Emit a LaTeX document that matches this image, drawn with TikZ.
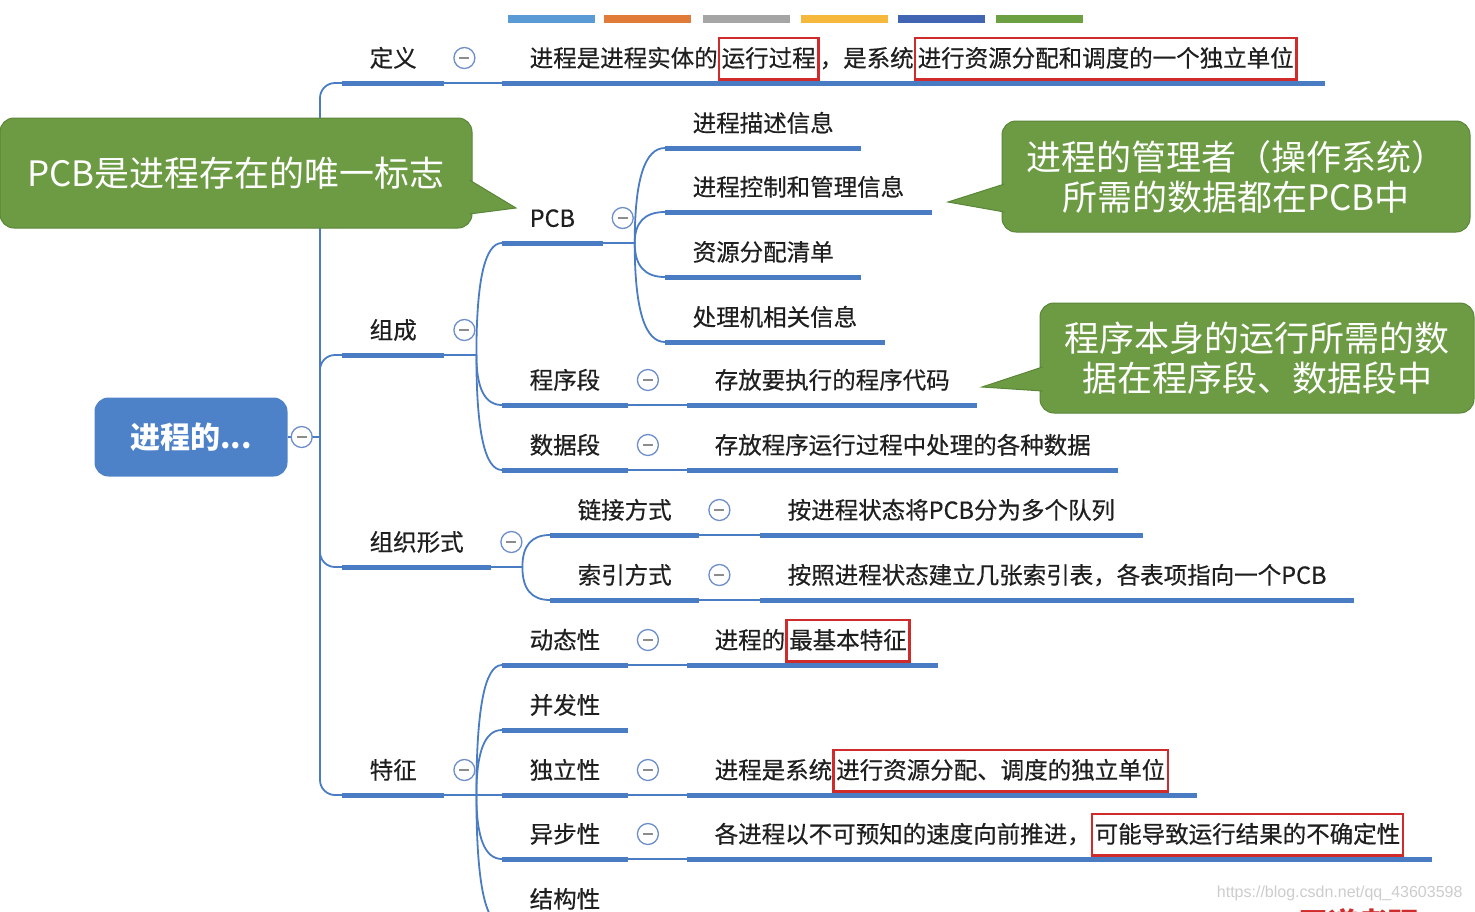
\documentclass[tikz,border=0pt]{standalone}
\usepackage{fontspec}
\setmainfont{Noto Sans CJK SC}
\newfontfamily\treefont{Noto Sans CJK SC}[FakeBold=0.5]
\newfontfamily\urlfont{Liberation Sans}
\usetikzlibrary{calc}

\definecolor{lineblue}{HTML}{4A7CC4}
\definecolor{rootblue}{HTML}{4E82C8}
\definecolor{notegreen}{HTML}{6C9B44}
\definecolor{noteedge}{HTML}{5A8638}
\definecolor{markred}{HTML}{D02B2B}
\definecolor{foldblue}{HTML}{6D8DCB}
\definecolor{barA}{HTML}{5B9BD5}
\definecolor{barB}{HTML}{E07B39}
\definecolor{barC}{HTML}{A5A5A5}
\definecolor{barD}{HTML}{F5B83D}
\definecolor{barE}{HTML}{4165B2}
\definecolor{barF}{HTML}{6DA043}

\newcommand{\hlbox}[1]{{\setlength{\fboxsep}{1.5pt}\setlength{\fboxrule}{2.5pt}%
  \fcolorbox{markred}{white}{\rule[-10pt]{0pt}{36pt}#1}}}

\begin{document}
\begin{tikzpicture}[x=1pt,y=-1pt]
  \tikzset{topic/.style={anchor=south west,inner xsep=27.5pt,inner ysep=8pt,
      text height=20pt,text depth=8pt,text=black!88,font=\treefont\fontsize{23.5}{28}\selectfont}};
  \tikzset{uline/.style={lineblue,line width=5pt}};
  \tikzset{link/.style={lineblue,line width=1.8pt}};
  \tikzset{fold/.style={circle,draw=foldblue,line width=1.3pt,fill=white,
      minimum size=21pt,inner sep=0pt,
      path picture={\draw[black!45,line width=1.5pt]
        ([xshift=-5pt]path picture bounding box.center) --
        ([xshift=5pt]path picture bounding box.center);}}};
  \tikzset{note/.style={rounded corners=14pt,fill=notegreen,draw=noteedge,line width=1pt,
      text=white,align=center,font=\fontsize{35}{40}\selectfont}};
  \useasboundingbox (0,0) rectangle (1475,911);
  \clip (0,0) rectangle (1475,911);

  % colour strip on top
  \foreach \x/\col in {508/barA,604/barB,703/barC,801/barD,898/barE,996/barF}
    \fill[\col] (\x,15) rectangle ++(87,8);

  \node[rounded corners=14pt,fill=rootblue,minimum width=193pt,minimum height=79pt,
    text=white,font=\fontsize{30}{36}\selectfont\bfseries] (root) at (191,437) {进程的...};
  \coordinate (spine) at (320,437);

  \node[topic] (def)  at (342,83)  {定义};
  \node[topic] (comp) at (342,355) {组成};
  \node[topic] (org)  at (342,567) {组织形式};
  \node[topic] (feat) at (342,795) {特征};

  \node[topic] (defd) at (502,83) {进程是进程实体的\hlbox{运行过程}，是系统\hlbox{进行资源分配和调度的一个独立单位}};

  \node[topic] (pcb)  at (502,243) {PCB};
  \node[topic] (prog) at (502,405) {程序段};
  \node[topic] (data) at (502,470) {数据段};
  \node[topic] (pcbA) at (665,148) {进程描述信息};
  \node[topic] (pcbB) at (665,212) {进程控制和管理信息};
  \node[topic] (pcbC) at (665,277) {资源分配清单};
  \node[topic] (pcbD) at (665,342) {处理机相关信息};
  \node[topic] (progd) at (687,405) {存放要执行的程序代码};
  \node[topic] (datad) at (687,470) {存放程序运行过程中处理的各种数据};

  \node[topic] (lnk)  at (550,535) {链接方式};
  \node[topic] (idx)  at (550,600) {索引方式};
  \node[topic] (lnkd) at (760,535) {按进程状态将PCB分为多个队列};
  \node[topic] (idxd) at (760,600) {按照进程状态建立几张索引表，各表项指向一个PCB};

  \node[topic] (dyn)   at (502,665) {动态性};
  \node[topic] (conc)  at (502,730) {并发性};
  \node[topic] (ind)   at (502,795) {独立性};
  \node[topic] (asyn)  at (502,859) {异步性};
  \node[topic] (struc) at (502,924) {结构性};
  \node[topic] (dynd)  at (687,665) {进程的\hlbox{最基本特征}};
  \node[topic] (indd)  at (687,795) {进程是系统\hlbox{进行资源分配、调度的独立单位}};
  \node[topic] (asynd) at (687,859) {各进程以不可预知的速度向前推进，\hlbox{可能导致运行结果的不确定性}};

  % branches
  \draw[link] (root.east) -- (spine);
  \foreach \n in {def,comp,org,feat}
    \draw[link,rounded corners=15pt] (spine) |- (\n.south west);

  \coordinate (fcomp) at ($(comp.south east)+(32,0)$);
  \coordinate (fpcb)  at ($(pcb.south east)+(32,0)$);
  \coordinate (forg)  at ($(org.south east)+(31,0)$);
  \coordinate (ffeat) at ($(feat.south east)+(32,0)$);
  \draw[link] (comp.south east) -- (fcomp);
  \draw[link] (pcb.south east) -- (fpcb);
  \draw[link] (org.south east) -- (forg);
  \draw[link] (feat.south east) -- (ffeat);
  \foreach \f/\n in {fcomp/pcb,fcomp/prog,fcomp/data,fpcb/pcbA,fpcb/pcbB,fpcb/pcbC,fpcb/pcbD,
      forg/lnk,forg/idx,ffeat/dyn,ffeat/conc,ffeat/ind,ffeat/asyn,ffeat/struc}{
    \coordinate (k) at (\f |- \n.south west);
    \draw[link] (\f) .. controls ($(\f)!0.67!(k)$) and ($(\n.south west)!0.67!(k)$) .. (\n.south west);
  }
  \foreach \a/\b in {def/defd,prog/progd,data/datad,lnk/lnkd,idx/idxd,dyn/dynd,ind/indd,asyn/asynd}
    \draw[link] (\a.south east) -- (\b.south west);

  \foreach \n in {def,comp,org,feat,defd,pcb,prog,data,pcbA,pcbB,pcbC,pcbD,progd,datad,
      lnk,idx,lnkd,idxd,dyn,conc,ind,asyn,struc,dynd,indd,asynd}
    \draw[uline] (\n.south west) -- (\n.south east);

  \foreach \n in {def,comp,org,feat,pcb,prog,data,lnk,idx,dyn,ind,asyn}
    \node[fold] (fold-\n) at ($(\n.south east)+(20,-25)$) {};
  \node[fold] (fold-root) at ($(root.east)+(14,0)$) {};

  % callouts
  \node[note,minimum width=472pt,minimum height=110pt] (noteA) at (236,173)
    {PCB是进程存在的唯一标志};
  \coordinate (tipA) at (516,208);
  \filldraw[fill=notegreen,draw=noteedge,line width=1pt]
    ($(noteA.east)+(-3,7)$) -- (tipA) -- ($(noteA.east)+(-3,41)$);

  \node[note,minimum width=468pt,minimum height=111pt] (noteB) at (1236,176.5)
    {进程的管理者（操作系统）\\所需的数据都在PCB中};
  \coordinate (tipB) at (948,202);
  \filldraw[fill=notegreen,draw=noteedge,line width=1pt]
    ($(noteB.west)+(3,7.5)$) -- (tipB) -- ($(noteB.west)+(3,35.5)$);

  \node[note,minimum width=434pt,minimum height=110pt] (noteC) at (1257,358)
    {程序本身的运行所需的数\\据在程序段、数据段中};
  \coordinate (tipC) at (982,387);
  \filldraw[fill=notegreen,draw=noteedge,line width=1pt]
    ($(noteC.west)+(3,9)$) -- (tipC) -- ($(noteC.west)+(3,33)$);

  \node[anchor=east,text=black!20,font=\urlfont\fontsize{16}{18}\selectfont] (wm)
    at (1466,893) {https://blog.csdn.net/qq\_43603598};
  \node[anchor=west,text=markred,font=\fontsize{30}{36}\selectfont\bfseries] (brand)
    at (1295,923) {王道考研};
\end{tikzpicture}
\end{document}
